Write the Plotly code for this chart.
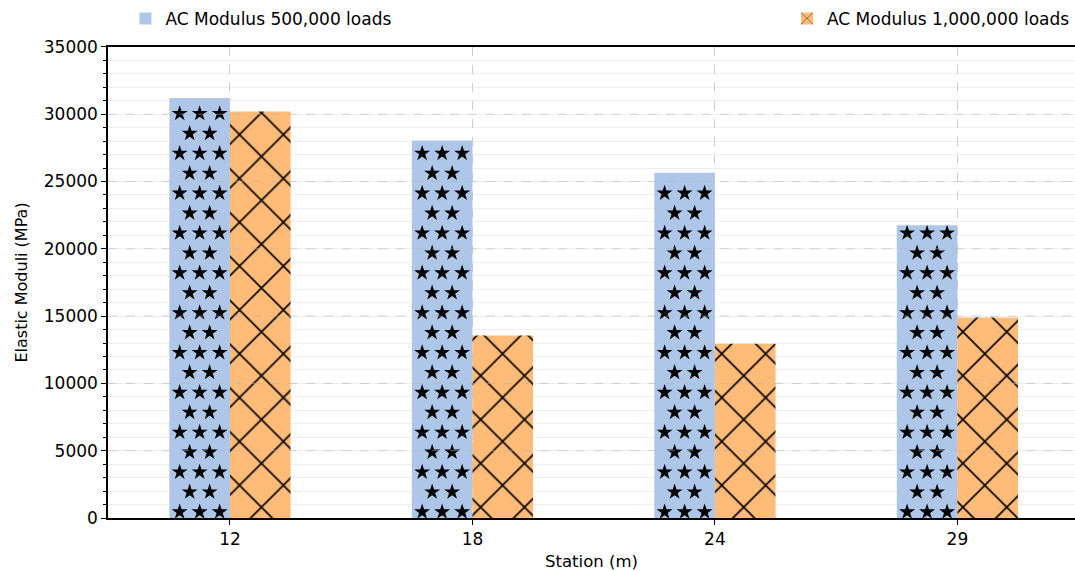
import plotly.graph_objects as go

stations = ["12", "18", "24", "29"]
mod_500k = [31200, 28050, 25650, 21750]
mod_1m = [30200, 13550, 12950, 14900]
y_ticks = [0, 5000, 10000, 15000, 20000, 25000, 30000, 35000]

BLUE = "#aec7e8"
ORANGE = "#ffbb78"
FONT = "DejaVu Sans"

xpos = list(range(len(stations)))

fig = go.Figure()
fig.add_trace(go.Bar(
    x=xpos, y=mod_500k, name="AC Modulus 500,000 loads",
    marker=dict(color=BLUE, line=dict(width=0)), legend="legend",
))
fig.add_trace(go.Bar(
    x=xpos, y=mod_1m, name="AC Modulus 1,000,000 loads",
    marker=dict(color=ORANGE, line=dict(width=0),
                pattern=dict(shape="x", fgcolor="black", bgcolor=ORANGE,
                             fgopacity=1, size=31, solidity=0.1)),
    legend="legend2",
))

# star hatch for the blue bars, generated from the bar values
px_per_unit_x = 242.5
px_per_unit_y = 473 / 35000
row_step = 20 / px_per_unit_y
sx, sy = [], []
for i, v in enumerate(mod_500k):
    c = i - 0.125
    k = 0
    y = 450
    while y + 420 <= v:
        offs = [-20, 0, 20] if k % 2 == 0 else [-10, 10]
        for o in offs:
            sx.append(c + o / px_per_unit_x)
            sy.append(y)
        y += row_step
        k += 1
fig.add_trace(go.Scatter(
    x=sx, y=sy, mode="markers", showlegend=False, hoverinfo="skip",
    marker=dict(symbol="star", size=12, color="black", line=dict(width=0)),
))

for t in y_ticks[1:-1]:
    fig.add_shape(type="line", xref="paper", x0=0, x1=1, yref="y", y0=t, y1=t,
                  line=dict(color="rgba(180,180,180,0.55)", width=1, dash="dash"),
                  layer="above")

fig.update_layout(
    width=1075, height=571,
    margin=dict(l=108, r=0, t=45, b=53),
    plot_bgcolor="white", paper_bgcolor="white",
    font=dict(family=FONT, size=17, color="black"),
    barmode="group", bargap=0.5, bargroupgap=0,
    legend=dict(x=0.018, xref="paper", xanchor="left", y=0.967, yref="container",
                yanchor="middle", orientation="h", bgcolor="rgba(0,0,0,0)",
                font=dict(size=17)),
    legend2=dict(x=1.0, xref="paper", xanchor="right", y=0.967, yref="container",
                 yanchor="middle", orientation="h", bgcolor="rgba(0,0,0,0)",
                 font=dict(size=17)),
    xaxis=dict(
        range=[-0.503, 3.485], tickvals=xpos, ticktext=stations,
        showgrid=True, griddash="dash", gridcolor="#cccccc", gridwidth=1,
        showline=True, linecolor="black", linewidth=1.5, mirror=True,
        ticks="outside", ticklen=5, tickcolor="black", zeroline=False,
        title=dict(text="Station (m)", font=dict(size=16.5), standoff=8),
        tickfont=dict(size=17),
    ),
    yaxis=dict(
        range=[0, 35000], tickvals=y_ticks, tickformat="d",
        showgrid=False,
        showline=True, linecolor="black", linewidth=1.5,
        ticks="outside", ticklen=5, tickcolor="black", zeroline=False,
        minor=dict(dtick=1000, ticks="outside", ticklen=3, tickcolor="black",
                   showgrid=True, gridcolor="#eeeeee", gridwidth=1),
        title=dict(text="Elastic Moduli (MPa)", font=dict(size=16), standoff=12),
        tickfont=dict(size=17),
    ),
)

fig.write_html("out.html")
